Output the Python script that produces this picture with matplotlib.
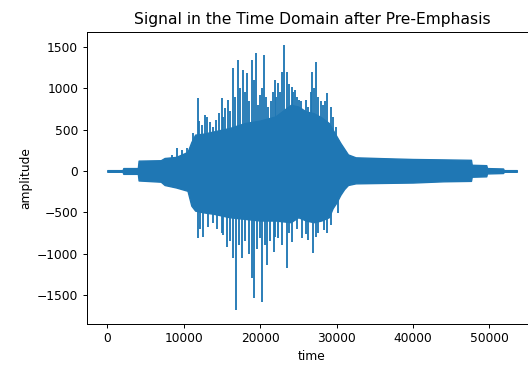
import matplotlib
matplotlib.use("Agg")
import matplotlib.pyplot as plt

# Solid core of the waveform: sample index, upper and lower envelope
env_time = [0, 2000, 2100, 4000, 4100, 7000, 7500, 9000, 10500, 11000, 11500, 12500,
            14000, 16000, 18000, 20000, 22000, 24000, 25000, 26000, 27000, 28000,
            29000, 29500, 30000, 30500, 31000, 31500, 32500, 36000, 40000, 44000,
            47600, 47700, 49600, 49700, 51800, 51900, 53600]
env_upper = [10, 10, 35, 35, 125, 130, 157, 170, 230, 350, 440, 450,
             480, 520, 580, 610, 660, 800, 780, 720, 700, 650,
             580, 500, 420, 340, 270, 200, 165, 155, 145, 140,
             135, 75, 70, 35, 30, 10, 10]
env_lower = [-10, -10, -35, -35, -115, -130, -170, -200, -240, -420, -480, -500,
             -520, -560, -580, -600, -600, -620, -560, -600, -620, -600,
             -560, -450, -380, -290, -220, -170, -150, -145, -140, -125,
             -120, -70, -65, -30, -25, -10, -10]

# Individual peaks sticking out of the core
spike_up_time = [8430, 9085, 9740, 10390, 10830, 11260, 11910, 12000, 12400, 12790,
                 13100, 13440, 13840, 14200, 14600, 14980, 15100, 15410, 15840, 16000,
                 16410, 16700, 17110, 17400, 17720, 18000, 18250, 18600, 18940, 19200,
                 19430, 19700, 19990, 20200, 20450, 20800, 21080, 21400, 21700, 21950,
                 22100, 22380, 22600, 22830, 23130, 23480, 23800, 24140, 24300, 24570,
                 24800, 25130, 25400, 25660, 26010, 26310, 26600, 26760, 27000, 27320,
                 27600, 27840, 28000, 28200, 28500, 28720, 29240, 29600, 29900]
spike_up_amp = [194, 275, 254, 275, 254, 460, 880, 600, 560, 678,
                650, 597, 536, 620, 700, 880, 650, 762, 859, 720,
                1243, 900, 1343, 1000, 1222, 950, 1186, 850, 1343, 1100,
                1424, 800, 920, 1000, 1404, 900, 778, 850, 950, 1101,
                900, 1061, 950, 1202, 1525, 1202, 1050, 1020, 950, 980,
                900, 859, 850, 718, 859, 778, 950, 1202, 1000, 1315,
                900, 657, 850, 799, 850, 940, 778, 650, 530]

spike_down_time = [11910, 12200, 12570, 13180, 13800, 14400, 14980, 15200, 15630, 16000,
                   16410, 16910, 17300, 17670, 18000, 18500, 18900, 19200, 19600, 19990,
                   20250, 20600, 20870, 21300, 21820, 22000, 22380, 22900, 23480, 23800,
                   24140, 24800, 25450, 26000, 26310, 26890, 27300, 27600, 28300, 28800,
                   29300, 30200]
spike_down_amp = [-814, -700, -795, -674, -633, -700, -754, -780, -916, -850,
                  -1056, -1688, -900, -1056, -850, -1000, -1298, -1540, -950, -814,
                  -1585, -900, -1137, -850, -976, -800, -814, -900, -1177, -750,
                  -855, -700, -814, -760, -835, -996, -800, -754, -720, -754,
                  -650, -508]

blue = "#1f77b4"
s = 0.886  # font / line scale relative to matplotlib defaults

plt.rcParams.update({
    "font.size": 10 * s,
    "axes.titlesize": 12 * s * 1.05,
    "axes.labelsize": 10 * s,
    "xtick.labelsize": 10 * s,
    "ytick.labelsize": 10 * s,
    "xtick.major.size": 3.5 * s,
    "ytick.major.size": 3.5 * s,
    "xtick.major.pad": 3.5 * s,
    "ytick.major.pad": 3.5 * s,
    "xtick.major.width": 0.8 * s,
    "ytick.major.width": 0.8 * s,
    "axes.linewidth": 0.8 * s,
    "axes.titlepad": 6 * s,
    "axes.labelpad": 4 * s,
})

fig = plt.figure(figsize=(5.28, 3.67), dpi=100)
ax = fig.add_axes([86.8 / 528, 1 - 323.7 / 367, 450.5 / 528, 292.0 / 367])

ax.fill_between(env_time, env_lower, env_upper, color=blue, lw=1.0)
ax.vlines(spike_up_time, 0, spike_up_amp, color=blue, lw=1.5 * s)
ax.vlines(spike_down_time, spike_down_amp, 0, color=blue, lw=1.5 * s)

ax.set_title("Signal in the Time Domain after Pre-Emphasis")
ax.set_xlabel("time")
ax.set_ylabel("amplitude")

fig.savefig("out.png", dpi=100)
